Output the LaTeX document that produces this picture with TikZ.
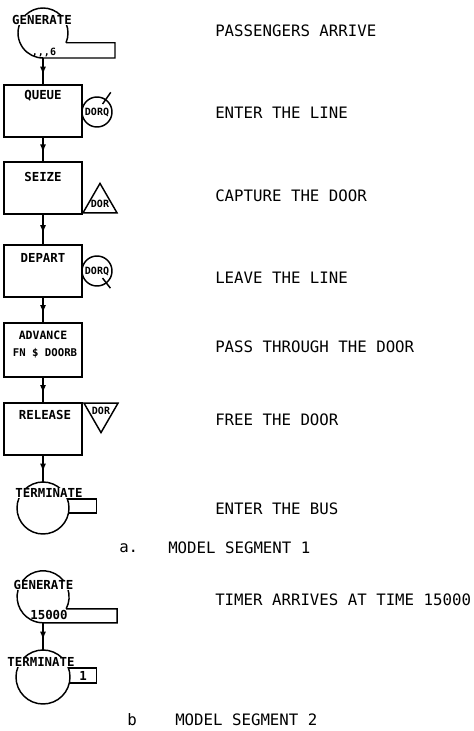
\documentclass[tikz,border=0pt]{standalone}
\usepackage{fontspec}
\setmonofont{DejaVu Sans Mono}
\usetikzlibrary{arrows.meta,calc,shapes.geometric,decorations.markings}
\tikzset{
  >={Latex[length=6pt,width=4.5pt]},
  % blokker
  blk/.style={draw,line width=1.1pt,minimum width=58.5pt,minimum height=39pt,
              inner sep=0pt,outer sep=0pt},
  bt/.style={font=\ttfamily\bfseries\fontsize{9.3}{9.3}\selectfont,inner sep=0.5pt},
  st/.style={font=\ttfamily\bfseries\fontsize{7.5}{7.5}\selectfont,inner sep=0pt},
  sym/.style={draw,line width=1.1pt},
  ring/.style={circle,inner sep=0pt,outer sep=0pt},
  tri/.style={regular polygon,regular polygon sides=3,draw,line width=1.1pt,
              inner sep=0pt,outer sep=0pt,minimum size=29.4pt},
  flow/.style={line width=1.1pt,postaction={decorate},
               decoration={markings,mark=at position 0.62 with {\arrow{>}}}},
  % texter
  note/.style={anchor=west,font=\ttfamily\fontsize{11.8}{12}\selectfont,inner sep=0pt},
}
\begin{document}
\begin{tikzpicture}[x=0.75pt,y=-0.75pt]
  \useasboundingbox (0,0) rectangle (474,731);
  % segment 1
  \node[ring,minimum size=37.5pt] (gen1) at (43,33) {};
  \draw[sym] (gen1.-23) arc[start angle=23,end angle=-270,radius=25] -- ++(72,0) |- (gen1.-23);
  \node[bt,fill=white] (gen1t) at (42,20) {GENERATE};
  \node[st] (gen1n) at (44,52) {,,,6};
  \node[blk] (queue) at (43,111) {};
  \node[bt] (queuet) at (43,96) {QUEUE};
  \node[ring,sym,st,minimum size=22.5pt] (dq1) at (97,112) {DORQ};
  \draw[sym] ($(dq1)!0.65!(dq1.55)$) -- ($(dq1)!1.6!(dq1.55)$);
  \node[blk] (seize) at (43,188) {};
  \node[bt] (seizet) at (43,177) {SEIZE};
  \node[tri] (dr1) at (100,203) {};
  \node[st] (dr1t) at (100,204) {DOR};
  \node[blk] (depart) at (43,271) {};
  \node[bt] (departt) at (43,258) {DEPART};
  \node[ring,sym,st,minimum size=22.5pt] (dq2) at (97,271) {DORQ};
  \draw[sym] ($(dq2)!0.6!(dq2.-52)$) -- ($(dq2)!1.45!(dq2.-52)$);
  \node[blk,minimum height=40.5pt] (adv) at (43,350) {};
  \node[bt,font=\ttfamily\bfseries\fontsize{8.6}{8.6}\selectfont] (advt1) at (43,335) {ADVANCE};
  \node[bt,font=\ttfamily\bfseries\fontsize{8}{8}\selectfont] (advt2) at (45,353) {FN \$ DOORB};
  \node[blk] (release) at (43,429) {};
  \node[bt] (releaset) at (45,415) {RELEASE};
  \node[tri,shape border rotate=180] (dr2) at (101,413) {};
  \node[st] (dr2t) at (101,411) {DOR};
  \node[ring,sym,minimum size=39pt] (term1) at (43,508) {};
  \draw[sym] (term1.20) -- ++(29,0) |- (term1.-11);
  \node[bt,fill=white] (term1t) at (49,493) {TERMINATE};
  \draw[flow] (gen1.south) -- (queue);
  \draw[flow] (queue) -- (seize);
  \draw[flow] (seize) -- (depart);
  \draw[flow] (depart) -- (adv);
  \draw[flow] (adv) -- (release);
  \draw[flow] (release) -- (term1);
  \node[note] (n1) at (215,31) {PASSENGERS ARRIVE};
  \node[note] (n2) at (215,113) {ENTER THE LINE};
  \node[note] (n3) at (215,196) {CAPTURE THE DOOR};
  \node[note] (n4) at (215,278) {LEAVE THE LINE};
  \node[note] (n5) at (215,347) {PASS THROUGH THE DOOR};
  \node[note] (n6) at (215,420) {FREE THE DOOR};
  \node[note] (n7) at (215,509) {ENTER THE BUS};
  \node[note] (capa) at (119,548) {a.};
  \node[note] (sega) at (168,548) {MODEL SEGMENT 1};
  % segment 2
  \node[ring,minimum size=39pt] (gen2) at (43,597) {};
  \draw[sym] (gen2.-27.5) arc[start angle=27.5,end angle=-270,radius=26] -- ++(74,0) |- (gen2.-27.5);
  \node[bt,fill=white] (gen2t) at (43.5,585) {GENERATE};
  \node[bt] (gen2n) at (49,615) {15000};
  \node[ring,sym,minimum size=40.5pt] (term2) at (43,677) {};
  \draw[sym] (term2.19) -- ++(28,0) |- (term2.-13);
  \node[bt,fill=white] (term2t) at (41,662) {TERMINATE};
  \node[bt] (term2n) at (83,675.5) {1};
  \draw[flow] (gen2.south) -- (term2);
  \node[note] (n8) at (215,600) {TIMER ARRIVES AT TIME 15000};
  \node[note] (capb) at (127,720) {b};
  \node[note] (segb) at (175,720) {MODEL SEGMENT 2};
\end{tikzpicture}
\end{document}
